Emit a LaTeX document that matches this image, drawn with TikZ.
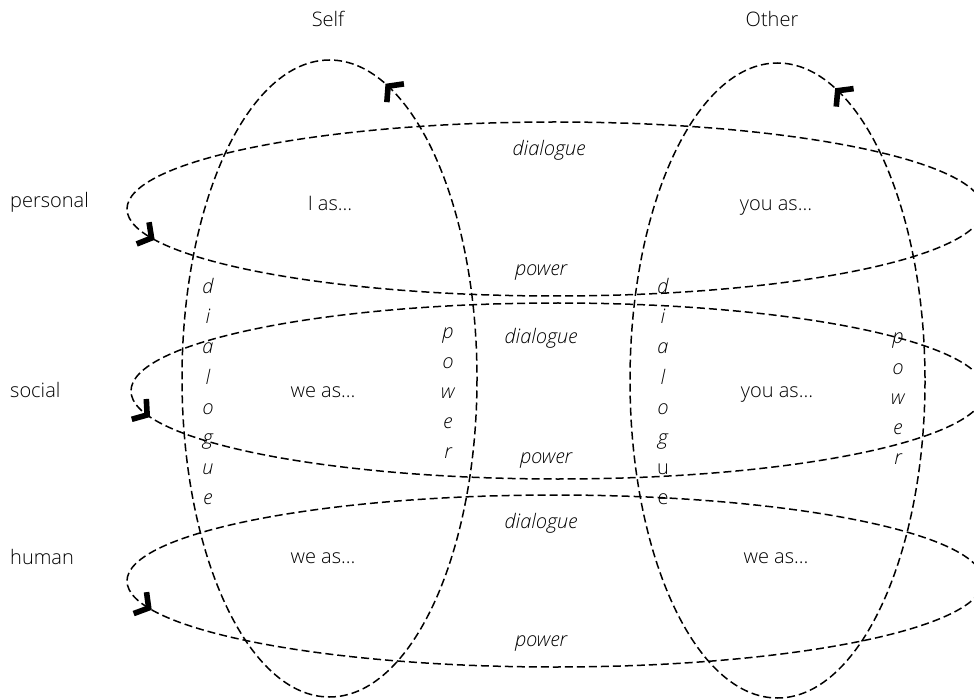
\documentclass[tikz,border=0pt]{standalone}
\usepackage{fontspec}
\setmainfont{Open Sans}[UprightFont={* Light}, ItalicFont={* Light Italic}]
\usetikzlibrary{calc}
\begin{document}
\begin{tikzpicture}[x=1pt,y=-1pt,
  ring/.style={dash pattern=on 8pt off 4pt, line width=1.5pt},
  chev/.style={line width=5.6pt, miter limit=10, line cap=butt, solid},
  lab/.style={font=\fontsize{20}{24}\selectfont, anchor=base, inner sep=0pt},
  lableft/.style={lab, anchor=base west},
  ital/.style={lab, font=\fontsize{20}{24}\selectfont\itshape},
]
\useasboundingbox (0,0) rectangle (974,700);
\begin{scope}
  \clip (0,0) rectangle (974,700);
  % horizontal rings
  \draw[ring] (555,209) ellipse [x radius=428, y radius=87];
  \draw[ring] (558,391) ellipse [x radius=427, y radius=88];
  \draw[ring] (555,581) ellipse [x radius=428, y radius=86];
  % vertical rings
  \draw[ring] (329.5,378.5) ellipse [x radius=147.5, y radius=318.5];
  \draw[ring] (777.5,380.5) ellipse [x radius=147.5, y radius=317.5];
  % arrow heads
  \draw[chev, shift={($(555,209)+(160.5:428 and 87)$)}, rotate=-29.6] (-10,-12.5) -- (0,0) -- (-10,12.5);
  \draw[chev, shift={($(558,391)+(164.2:427 and 88)$)}, rotate=-35.6] (-10,-12.5) -- (0,0) -- (-10,12.5);
  \draw[chev, shift={($(555,581)+(161.7:428 and 86)$)}, rotate=-31] (-10,-12.5) -- (0,0) -- (-10,12.5);
  \draw[chev, shift={($(329.5,378.5)+(-66.6:147.5 and 318.5)$)}, rotate=137] (-10,-12.5) -- (0,0) -- (-10,12.5);
  \draw[chev, shift={($(777.5,380.5)+(-65.9:147.5 and 317.5)$)}, rotate=136] (-10,-12.5) -- (0,0) -- (-10,12.5);
\end{scope}
% column and row headings
\node[lab] (self) at (328,27) {Self};
\node[lab] (other) at (772,27) {Other};
\node[lableft] (personal) at (10,208) {personal};
\node[lableft] (social) at (10,397) {social};
\node[lableft] (human) at (10,564) {human};
% cell texts
\node[lab] (c11) at (330,211) {I as…};
\node[lab] (c12) at (776,211) {you as…};
\node[lab] (c21) at (323,397) {we as…};
\node[lab] (c22) at (777,397) {you as…};
\node[lab] (c31) at (323,563) {we as…};
\node[lab] (c32) at (776,563) {we as…};
% horizontal ring labels
\node[ital] (d1) at (549,156) {dialogue};
\node[ital] (p1) at (541,276) {power};
\node[ital] (d2) at (541,344) {dialogue};
\node[ital] (p2) at (546,463) {power};
\node[ital] (d3) at (541,528) {dialogue};
\node[ital] (p3) at (541,646) {power};
% vertical ring labels
\foreach \ch [count=\i] in {d,i,a,l,o,g,u,e}
  \node[ital] (sd\i) at (208,{294+30*(\i-1)}) {\ch};
\foreach \ch [count=\i] in {p,o,w,e,r}
  \node[ital] (sp\i) at (448,{338+30*(\i-1)}) {\ch};
\foreach \ch [count=\i] in {d,i,a,l,o,g,\upshape u,\upshape e}
  \node[ital] (od\i) at (663,{294+30*(\i-1)}) {\ch};
\foreach \ch [count=\i] in {p,o,w,e,r}
  \node[ital] (op\i) at (898,{344+30*(\i-1)}) {\ch};
\end{tikzpicture}
\end{document}
